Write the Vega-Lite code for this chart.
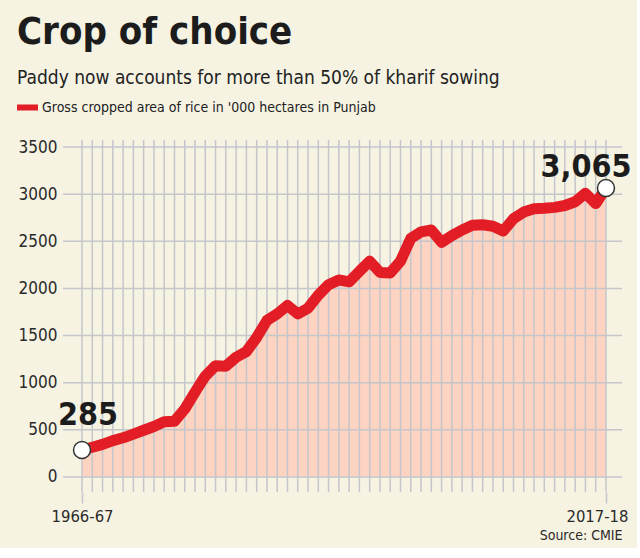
{
  "$schema": "https://vega.github.io/schema/vega-lite/v6.json",
  "width": 559,
  "height": 352,
  "padding": {"left": 14, "top": 14, "right": 5, "bottom": 5},
  "background": "#f6f3e3",
  "config": {"view": {"stroke": null}, "font": "DejaVu Sans Condensed, sans-serif"},
  "title": {
    "text": "Crop of choice",
    "subtitle": "Paddy now accounts for more than 50% of kharif sowing",
    "anchor": "start",
    "frame": "group",
    "dx": -46,
    "font": "DejaVu Sans Condensed, sans-serif",
    "fontSize": 38,
    "fontWeight": "bold",
    "color": "#1c1c1c",
    "subtitleFont": "DejaVu Sans Condensed, sans-serif",
    "subtitleFontSize": 19,
    "subtitleColor": "#222222",
    "subtitlePadding": 17,
    "offset": 6
  },
  "datasets": {
    "rice": [
      {"year": 1966, "area": 285}, {"year": 1967, "area": 315}, {"year": 1968, "area": 345},
      {"year": 1969, "area": 385}, {"year": 1970, "area": 415}, {"year": 1971, "area": 455},
      {"year": 1972, "area": 495}, {"year": 1973, "area": 535}, {"year": 1974, "area": 585},
      {"year": 1975, "area": 590}, {"year": 1976, "area": 720}, {"year": 1977, "area": 900},
      {"year": 1978, "area": 1070}, {"year": 1979, "area": 1180}, {"year": 1980, "area": 1175},
      {"year": 1981, "area": 1270}, {"year": 1982, "area": 1330}, {"year": 1983, "area": 1480},
      {"year": 1984, "area": 1660}, {"year": 1985, "area": 1730}, {"year": 1986, "area": 1820},
      {"year": 1987, "area": 1730}, {"year": 1988, "area": 1790}, {"year": 1989, "area": 1930},
      {"year": 1990, "area": 2040}, {"year": 1991, "area": 2090}, {"year": 1992, "area": 2070},
      {"year": 1993, "area": 2180}, {"year": 1994, "area": 2290}, {"year": 1995, "area": 2170},
      {"year": 1996, "area": 2165}, {"year": 1997, "area": 2290}, {"year": 1998, "area": 2530},
      {"year": 1999, "area": 2600}, {"year": 2000, "area": 2620}, {"year": 2001, "area": 2490},
      {"year": 2002, "area": 2560}, {"year": 2003, "area": 2620}, {"year": 2004, "area": 2670},
      {"year": 2005, "area": 2675}, {"year": 2006, "area": 2660}, {"year": 2007, "area": 2610},
      {"year": 2008, "area": 2740}, {"year": 2009, "area": 2810}, {"year": 2010, "area": 2845},
      {"year": 2011, "area": 2850}, {"year": 2012, "area": 2860}, {"year": 2013, "area": 2880},
      {"year": 2014, "area": 2920}, {"year": 2015, "area": 3010}, {"year": 2016, "area": 2900},
      {"year": 2017, "area": 3065}
    ],
    "yticks": [
      {"area": 0}, {"area": 500}, {"area": 1000}, {"area": 1500}, {"area": 2000}, {"area": 2500}, {"area": 3000}, {"area": 3500}
    ]
  },
  "layer": [
    {
      "data": {"name": "rice"},
      "mark": {"type": "area", "color": "#fdd3c2", "opacity": 1},
      "encoding": {
        "x": {
          "field": "year", "type": "quantitative",
          "scale": {"domain": [1964.15, 2018.56], "nice": false, "zero": false},
          "axis": {
            "values": [1966, 2017],
            "grid": false, "domain": false,
            "ticks": true, "tickSize": 11, "tickColor": "#c5c5cc", "tickWidth": 1.5,
            "labelExpr": "datum.value == 1966 ? '1966-67' : '2017-18'",
            "labelFontSize": 16.5, "labelColor": "#2a2a2a", "labelPadding": 5,
            "labelOffset": {"condition": {"test": "datum.value == 2017", "value": -9}, "value": 0},
            "labelFlush": false,
            "title": "Source: CMIE", "titleAnchor": "end", "titleFontSize": 14,
            "titleFontWeight": "normal", "titleColor": "#2a2a2a", "titlePadding": 4
          }
        },
        "y": {
          "field": "area", "type": "quantitative",
          "scale": {"domain": [-160, 3575], "nice": false, "zero": false},
          "axis": {
            "values": [0, 500, 1000, 1500, 2000, 2500, 3000, 3500],
            "format": "d",
            "grid": false, "domain": false, "ticks": false,
            "labelFontSize": 17, "labelColor": "#2a2a2a", "labelPadding": 6,
            "title": null
          }
        },
        "y2": {"datum": 0}
      }
    },
    {
      "data": {"name": "rice"},
      "mark": {"type": "rule", "color": "#c5c5cc", "strokeWidth": 1.5},
      "encoding": {
        "x": {"field": "year", "type": "quantitative"}
      }
    },
    {
      "data": {"name": "yticks"},
      "mark": {"type": "rule", "color": "#c5c5cc", "strokeWidth": 1.5},
      "encoding": {
        "y": {"field": "area", "type": "quantitative"}
      }
    },
    {
      "data": {"name": "rice"},
      "mark": {"type": "line", "strokeWidth": 11, "strokeJoin": "round", "strokeCap": "round"},
      "encoding": {
        "x": {"field": "year", "type": "quantitative"},
        "y": {"field": "area", "type": "quantitative"},
        "color": {
          "datum": "Gross cropped area of rice in '000 hectares in Punjab",
          "scale": {"range": ["#e21d25"]},
          "legend": {
            "orient": "none", "legendX": -49, "legendY": -46,
            "title": null, "symbolType": "stroke", "symbolSize": 441,
            "symbolStrokeWidth": 6, "labelFontSize": 14, "labelColor": "#222222",
            "labelOffset": 1, "padding": 0, "labelLimit": 800
          }
        }
      }
    },
    {
      "data": {"name": "rice"},
      "transform": [{"filter": "datum.year == 1966 || datum.year == 2017"}],
      "mark": {"type": "point", "shape": "circle", "filled": true, "fill": "#ffffff", "stroke": "#333333", "strokeWidth": 1.5, "size": 289, "opacity": 1},
      "encoding": {
        "x": {"field": "year", "type": "quantitative"},
        "y": {"field": "area", "type": "quantitative"}
      }
    },
    {
      "data": {"name": "rice"},
      "transform": [{"filter": "datum.year == 1966"}],
      "mark": {"type": "text", "fontSize": 32, "fontWeight": "bold", "color": "#1c1c1c", "align": "center", "baseline": "alphabetic", "dx": 6, "dy": -25},
      "encoding": {
        "x": {"field": "year", "type": "quantitative"},
        "y": {"field": "area", "type": "quantitative"},
        "text": {"field": "area", "type": "quantitative", "format": ","}
      }
    },
    {
      "data": {"name": "rice"},
      "transform": [{"filter": "datum.year == 2017"}],
      "mark": {"type": "text", "fontSize": 32, "fontWeight": "bold", "color": "#1c1c1c", "align": "center", "baseline": "alphabetic", "dx": -20, "dy": -11},
      "encoding": {
        "x": {"field": "year", "type": "quantitative"},
        "y": {"field": "area", "type": "quantitative"},
        "text": {"field": "area", "type": "quantitative", "format": ","}
      }
    }
  ]
}
